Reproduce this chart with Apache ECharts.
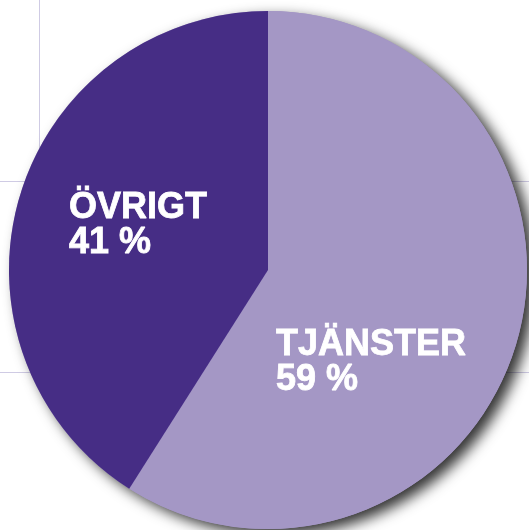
<!DOCTYPE html>
<html>
<head>
<meta charset="utf-8">
<script src="https://cdn.jsdelivr.net/npm/echarts@6/dist/echarts.min.js"></script>
<style>
html,body{margin:0;padding:0;background:#fff;}
#chart{width:529px;height:530px;}
</style>
</head>
<body>
<div id="chart"></div>
<script>
const categories = ['TJÄNSTER', 'ÖVRIGT'];
const values = [59, 41];
const colors = ['#a497c5', '#462d85'];
const labelPos = [[276, 328], [69, 191]];

const chart = echarts.init(document.getElementById('chart'), null, {renderer: 'canvas'});
const total = values.reduce((a, b) => a + b, 0);
const lineColor = '#cfcbe4';

chart.setOption({
  animation: false,
  backgroundColor: '#ffffff',
  graphic: [
    {type: 'line', z: -10, shape: {x1: 39.5, y1: 0, x2: 39.5, y2: 181}, style: {stroke: lineColor, lineWidth: 1}},
    {type: 'line', z: -10, shape: {x1: 0, y1: 181.5, x2: 529, y2: 181.5}, style: {stroke: lineColor, lineWidth: 1}},
    {type: 'line', z: -10, shape: {x1: 0, y1: 372.5, x2: 529, y2: 372.5}, style: {stroke: lineColor, lineWidth: 1}}
  ],
  series: [
    {
      type: 'pie',
      silent: true,
      z: 1,
      center: [268, 270],
      radius: 259,
      label: {show: false},
      labelLine: {show: false},
      itemStyle: {
        color: colors[0],
        borderWidth: 0,
        shadowBlur: 14,
        shadowOffsetX: 8,
        shadowOffsetY: 6,
        shadowColor: 'rgba(0,0,0,0.8)'
      },
      data: [{name: 'shadow', value: total}]
    },
    {
      type: 'pie',
      silent: true,
      z: 2,
      center: [268, 270],
      radius: 259,
      startAngle: 90,
      clockwise: true,
      itemStyle: {borderWidth: 0},
      label: {
        show: true,
        position: 'inside',
        formatter: '{b}\n{c} %',
        color: '#ffffff',
        fontFamily: "'Liberation Sans', Arial, Helvetica, sans-serif",
        fontWeight: 'bold',
        fontSize: 36,
        lineHeight: 35,
        align: 'left',
        textBorderColor: '#ffffff',
        textBorderWidth: 0.8
      },
      labelLine: {show: false},
      labelLayout: function (params) {
        const p = labelPos[params.dataIndex];
        return {x: p[0], y: p[1], align: 'left', verticalAlign: 'top'};
      },
      data: categories.map((c, i) => ({name: c, value: values[i], itemStyle: {color: colors[i]}}))
    }
  ]
});
</script>
</body>
</html>
